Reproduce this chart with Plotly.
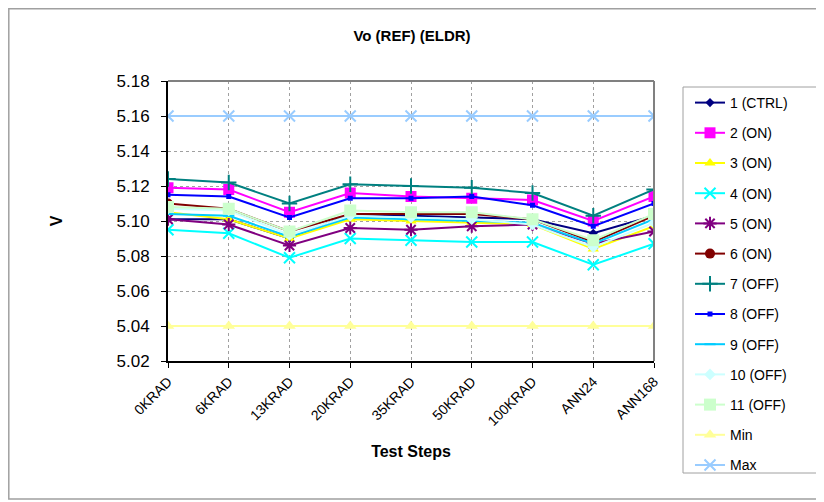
import plotly.graph_objects as go

categories = ["0KRAD", "6KRAD", "13KRAD", "20KRAD", "35KRAD", "50KRAD", "100KRAD", "ANN24", "ANN168"]

s1_ctrl = [5.101, 5.101, 5.090, 5.104, 5.103, 5.102, 5.101, 5.093, 5.103]
s2_on = [5.119, 5.118, 5.105, 5.116, 5.114, 5.113, 5.112, 5.100, 5.114]
s3_on = [5.105, 5.101, 5.090, 5.101, 5.100, 5.099, 5.098, 5.084, 5.097]
s4_on = [5.095, 5.093, 5.079, 5.090, 5.089, 5.088, 5.088, 5.075, 5.087]
s5_on = [5.101, 5.098, 5.086, 5.096, 5.095, 5.097, 5.098, 5.087, 5.094]
s6_on = [5.110, 5.107, 5.094, 5.104, 5.104, 5.104, 5.101, 5.088, 5.103]
s7_off = [5.124, 5.122, 5.110, 5.121, 5.120, 5.119, 5.116, 5.103, 5.118]
s8_off = [5.115, 5.114, 5.102, 5.113, 5.113, 5.114, 5.109, 5.097, 5.110]
s9_off = [5.104, 5.103, 5.091, 5.102, 5.101, 5.100, 5.099, 5.087, 5.101]
s10_off = [5.107, 5.106, 5.092, 5.103, 5.102, 5.101, 5.098, 5.085, 5.099]
s11_off = [5.108, 5.107, 5.094, 5.106, 5.105, 5.105, 5.101, 5.089, 5.104]
min_lim = [5.04] * 9
max_lim = [5.16] * 9

names = ["1 (CTRL)", "2 (ON)", "3 (ON)", "4 (ON)", "5 (ON)", "6 (ON)", "7 (OFF)",
         "8 (OFF)", "9 (OFF)", "10 (OFF)", "11 (OFF)", "Min", "Max"]
data = [s1_ctrl, s2_on, s3_on, s4_on, s5_on, s6_on, s7_off, s8_off, s9_off,
        s10_off, s11_off, min_lim, max_lim]
colors = ["#000080", "#FF00FF", "#FFFF00", "#00FFFF", "#800080", "#800000", "#008080",
          "#0000FF", "#00CCFF", "#CCFFFF", "#CCFFCC", "#FFFF99", "#99CCFF"]
symbols = ["diamond", "square", "triangle-up", "x-thin-open", "asterisk-open", "circle",
           "cross-thin-open", "square", "line-ew-open", "diamond", "square",
           "triangle-up", "x-thin-open"]
sizes = [7, 11, 10, 11, 11, 10, 11, 5, 8, 9, 12, 11, 11]

fig = go.Figure()
for i, (nm, ys, c, sym, sz) in enumerate(zip(names, data, colors, symbols, sizes)):
    open_sym = sym.endswith("open")
    fig.add_trace(go.Scatter(
        x=list(range(len(categories))), y=ys, name=nm, mode="lines+markers",
        line=dict(color=c, width=2),
        marker=dict(symbol=sym, size=sz, color=c,
                    line=dict(color=c, width=2 if open_sym else 0)),
        legendgroup=f"g{i}",
    ))

W, H = 824, 502
OFS = 8  # page offset of the plot div in the screenshot
SL, SR, ST, SB = 168, 654, 81, 361
L, R, T, B = SL - OFS, SR - OFS, ST - OFS, SB - OFS

def px(x):
    return (x - SL) / (SR - SL)

def py(y):
    return (SB - y) / (SB - ST)

shapes = [
    dict(type="rect", xref="paper", yref="paper", x0=px(8.8), x1=px(840), y0=py(499), y1=py(8.8),
         line=dict(color="#a0a0a0", width=1.5), layer="below"),
    dict(type="line", xref="paper", yref="paper", x0=0, x1=1, y0=1, y1=1,
         line=dict(color="#808080", width=2)),
    dict(type="line", xref="paper", yref="paper", x0=1, x1=1, y0=0, y1=1,
         line=dict(color="#808080", width=2)),
    dict(type="rect", xref="paper", yref="paper", x0=px(683), x1=px(818), y0=py(473), y1=py(87),
         line=dict(color="#a0a0a0", width=1)),
]

fig.update_layout(
    width=W, height=H,
    margin=dict(l=L, r=W - R, t=T, b=H - B, autoexpand=False),
    paper_bgcolor="white", plot_bgcolor="white",
    font=dict(family="Liberation Sans, Arial", color="black", size=13),
    title=dict(text="<b>Vo (REF) (ELDR)</b>", x=(412 - OFS) / W, xanchor="center",
               y=1 - (36 - OFS) / H, yanchor="middle", font=dict(size=15)),
    showlegend=True,
    legend=dict(x=px(690), y=py(87), xanchor="left", yanchor="top",
                bgcolor="rgba(0,0,0,0)", borderwidth=0, tracegroupgap=9,
                font=dict(size=14), itemwidth=30, maxheight=480),
    shapes=shapes,
)

fig.update_xaxes(
    range=[0, 8], tickmode="array", tickvals=list(range(len(categories))), ticktext=categories,
    tickangle=-45, ticks="outside", ticklen=5, tickcolor="black",
    showline=True, linecolor="black", linewidth=2,
    showgrid=True, gridcolor="#a0a0a0", griddash="dot", gridwidth=1,
    zeroline=False, tickfont=dict(size=14), automargin=False,
    title=dict(text="<b>Test Steps</b>", font=dict(size=16), standoff=18),
)
fig.update_yaxes(
    range=[5.02, 5.18], tickmode="array",
    tickvals=[5.02, 5.04, 5.06, 5.08, 5.10, 5.12, 5.14, 5.16, 5.18],
    tickformat=".2f", ticks="outside", ticklen=5, tickcolor="black",
    showline=True, linecolor="black", linewidth=2,
    showgrid=True, gridcolor="#a0a0a0", griddash="dot", gridwidth=1,
    zeroline=False, tickfont=dict(size=17), ticklabelstandoff=8, automargin=False,
    title=dict(text="<b>V</b>", font=dict(size=16), standoff=50),
)

fig.write_html("out.html")
